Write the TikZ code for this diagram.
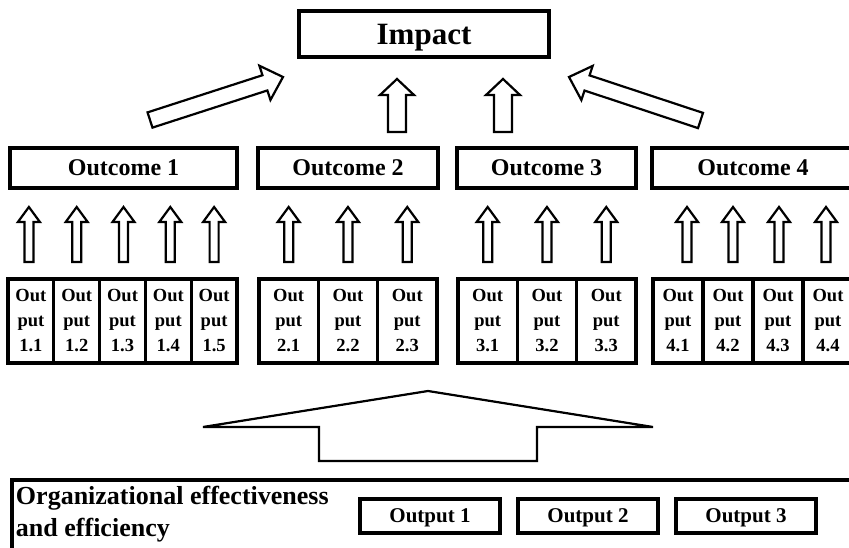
\documentclass[tikz,border=0pt]{standalone}
\usepackage{fontspec}
\setmainfont{Liberation Serif}
\usepackage{tikz}
\usetikzlibrary{positioning}
\usetikzlibrary{calc}
\newcommand{\cellheight}{84pt}
\newcommand{\outcomeheight}{40pt}
\newcommand{\boxline}{3.2pt}
\newcommand{\arrowline}{2.2pt}
\newcommand{\groupawidth}{45.8pt}
\newcommand{\groupbwidth}{59.3pt}
\newcommand{\groupdwidth}{50pt}

% hollow arrow: tail, tip, half shaft, half head, head length
\newcommand{\blockarrow}[5]{%
  \coordinate (ba-h) at ($(#2)!#5!(#1)$);
  \draw[blockarrowline] ($(#1)!#3!90:(#2)$) -- ($(ba-h)!#3!-90:(#1)$) -- ($(ba-h)!#4!-90:(#1)$) -- (#2)
    -- ($(ba-h)!#4!90:(#1)$) -- ($(ba-h)!#3!90:(#1)$) -- ($(#1)!#3!-90:(#2)$) -- cycle;
}
% small arrow from an output cell up to its outcome
\newcommand{\smallup}[3]{%
  \coordinate (su-s) at ($(#1.north)+(#3,-17)$);
  \coordinate (su-t) at ($(#1.north |- #2.south)+(#3,19)$);
  \blockarrow{su-s}{su-t}{4.5pt}{11pt}{15pt}
}

\begin{document}
\begin{tikzpicture}[x=1pt, y=-1pt, node distance=0pt, outer sep=0pt]
\useasboundingbox (0,0) rectangle (849,548);
\clip (0,0) rectangle (849,548);
\tikzstyle{impactbox}=[
    draw,
    rectangle,
    line width=\boxline,
    minimum width=250pt,
    minimum height=46pt,
    text depth=0pt,
    font=\fontsize{31}{36}\selectfont\bfseries]
\tikzstyle{outcome}=[
    draw,
    rectangle,
    line width=\boxline,
    minimum height=\outcomeheight,
    font=\fontsize{24}{28}\selectfont\bfseries]
\tikzstyle{cell}=[
    draw,
    rectangle,
    line width=\boxline,
    minimum height=\cellheight,
    inner sep=0pt,
    align=center,
    font=\fontsize{18.5}{25}\selectfont\bfseries,
    anchor=north west]
\tikzstyle{orgbox}=[
    draw,
    rectangle,
    line width=\boxline,
    minimum width=870pt,
    minimum height=90pt,
    anchor=north west]
\tikzstyle{orgoutput}=[
    draw,
    rectangle,
    line width=\boxline,
    minimum width=140pt,
    minimum height=34pt,
    text depth=0pt,
    font=\fontsize{21}{24}\selectfont\bfseries]
\tikzstyle{blockarrowline}=[
    draw,
    line width=\arrowline,
    fill=white,
    line join=miter]

\node[impactbox] (impact) at (424,34) {Impact};

\node[outcome, minimum width=227pt] (o1) at (123.5,168) {Outcome 1};
\node[outcome, minimum width=180pt] (o2) at (348,168) {Outcome 2};
\node[outcome, minimum width=179pt] (o3) at (546.5,168) {Outcome 3};
\node[outcome, minimum width=202pt] (o4) at (753,168) {Outcome 4};

\node[cell, minimum width=\groupawidth] (c11) at (8,279) {Out\\put\\1.1};
\node[cell, minimum width=\groupawidth] (c12) [right = of c11] {Out\\put\\1.2};
\node[cell, minimum width=\groupawidth] (c13) [right = of c12] {Out\\put\\1.3};
\node[cell, minimum width=\groupawidth] (c14) [right = of c13] {Out\\put\\1.4};
\node[cell, minimum width=\groupawidth] (c15) [right = of c14] {Out\\put\\1.5};

\node[cell, minimum width=\groupbwidth] (c21) at (259,279) {Out\\put\\2.1};
\node[cell, minimum width=\groupbwidth] (c22) [right = of c21] {Out\\put\\2.2};
\node[cell, minimum width=\groupbwidth] (c23) [right = of c22] {Out\\put\\2.3};

\node[cell, minimum width=\groupbwidth] (c31) at (458,279) {Out\\put\\3.1};
\node[cell, minimum width=\groupbwidth] (c32) [right = of c31] {Out\\put\\3.2};
\node[cell, minimum width=\groupbwidth] (c33) [right = of c32] {Out\\put\\3.3};

\node[cell, minimum width=\groupdwidth] (c41) at (653,279) {Out\\put\\4.1};
\node[cell, minimum width=\groupdwidth] (c42) [right = of c41] {Out\\put\\4.2};
\node[cell, minimum width=\groupdwidth] (c43) [right = of c42] {Out\\put\\4.3};
\node[cell, minimum width=\groupdwidth] (c44) [right = of c43] {Out\\put\\4.4};

\node[orgbox] (org) at (12,480) {};
\node[anchor=west, align=left, inner sep=0pt, font=\fontsize{26}{32}\selectfont\bfseries] (orgtext) at (16,514) {Organizational effectiveness\\and efficiency};
\node[orgoutput] (ob1) at (430,516) {Output 1};
\node[orgoutput] (ob2) at (588,516) {Output 2};
\node[orgoutput] (ob3) at (746,516) {Output 3};

% outcomes to impact
\coordinate (a1s) at ($(o1.north)+(26.5,-28)$);
\coordinate (a1t) at ($(impact.south west)+(-16,20)$);
\coordinate (a2s) at ($(o2.north)+(49,-16)$);
\coordinate (a2t) at ($(impact.south)+(-27,22)$);
\coordinate (a3s) at ($(o3.north)+(-43.5,-16)$);
\coordinate (a3t) at ($(impact.south)+(79,22)$);
\coordinate (a4s) at ($(o4.north)+(-52.5,-27.5)$);
\coordinate (a4t) at ($(impact.south east)+(20,20)$);
\blockarrow{a1s}{a1t}{8pt}{18pt}{19pt}
\blockarrow{a2s}{a2t}{9pt}{17pt}{16pt}
\blockarrow{a3s}{a3t}{9pt}{17pt}{16pt}
\blockarrow{a4s}{a4t}{8pt}{18pt}{19pt}

% outputs to outcomes
\smallup{c11}{o1}{-2}
\smallup{c12}{o1}{0}
\smallup{c13}{o1}{1}
\smallup{c14}{o1}{2}
\smallup{c15}{o1}{0}
\smallup{c21}{o2}{0}
\smallup{c22}{o2}{0}
\smallup{c23}{o2}{0}
\smallup{c31}{o3}{0}
\smallup{c32}{o3}{0}
\smallup{c33}{o3}{0}
\smallup{c41}{o4}{9}
\smallup{c42}{o4}{5}
\smallup{c43}{o4}{1}
\smallup{c44}{o4}{-2}

% organization up to the outputs
\coordinate (bigs) at ($(org.north west)+(416,-19)$);
\coordinate (bigt) at ($(org.north west)+(416,-89)$);
\blockarrow{bigs}{bigt}{109pt}{225pt}{36pt}

\end{tikzpicture}
\end{document}
